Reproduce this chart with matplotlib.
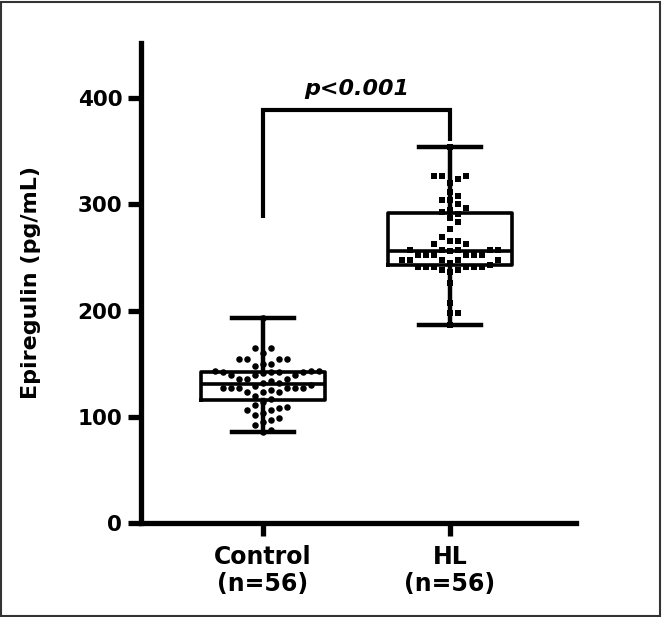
import matplotlib
matplotlib.use("Agg")
import matplotlib.pyplot as plt
from matplotlib.patches import Rectangle
import numpy as np

groups = ["Control\n(n=56)", "HL\n(n=56)"]
control = [86, 88, 92, 95, 97, 99, 102, 104, 106, 106, 108, 109, 111, 114,
           117, 120, 123, 123, 123, 125, 127, 127, 127, 127, 127, 127, 129, 130,
           132, 132, 134, 136, 136, 136, 139, 139, 139, 141, 142, 142, 142, 142,
           143, 143, 143, 148, 150, 150, 154, 154, 154, 154, 160, 165, 165, 193]
hl = [186, 198, 198, 207, 226, 236, 238, 238, 241, 241, 241, 241, 241, 241,
      243, 245, 248, 248, 248, 248, 248, 252, 252, 252, 252, 252, 252, 256,
      257, 257, 257, 257, 257, 263, 263, 266, 266, 269, 277, 283, 287, 291,
      293, 295, 297, 300, 304, 304, 308, 312, 320, 324, 327, 327, 327, 354]
p_label = "p<0.001"
yticks = [0, 100, 200, 300, 400]

FONT = "DejaVu Sans"


def swarm(values, step):
    # simple beeswarm: offsets in pixels, values already in pixels
    order = np.argsort(values, kind="stable")
    cands = [0.0]
    for j in range(1, 30):
        cands += [j * step, -j * step]
    placed = []
    offs = np.zeros(len(values))
    for i in order:
        y = values[i]
        for c in cands:
            if all((c - px) ** 2 + (y - py) ** 2 >= step ** 2 for px, py in placed):
                break
        offs[i] = c
        placed.append((c, y))
    return offs


fig = plt.figure(figsize=(6.62, 6.17), dpi=100)
ax = fig.add_axes([141 / 662, 94 / 617, 435 / 662, 480 / 617])

ax.set_xlim(0.348, 2.674)
ax.set_ylim(0, 452)

px_per_y = 480 / 452
px_per_x = 435 / (2.674 - 0.348)

ax.boxplot([control, hl], positions=[1, 2], widths=0.66, whis=(0, 100),
           showfliers=False, capwidths=0.33,
           boxprops=dict(color="black", linewidth=2.6),
           whiskerprops=dict(color="black", linewidth=3.2),
           capprops=dict(color="black", linewidth=3.2),
           medianprops=dict(color="black", linewidth=2.6))

for pos, vals, mk, sz in [(1, control, "o", 22), (2, hl, "s", 20)]:
    vals = np.array(vals, dtype=float)
    offs = swarm(vals * px_per_y, 8.0) / px_per_x
    ax.scatter(pos + offs, vals, marker=mk, s=sz, color="black",
               linewidths=0, zorder=3)

# significance bracket
ax.plot([1, 1, 2, 2], [287, 389, 389, 360], color="black", linewidth=3,
        solid_joinstyle="miter", solid_capstyle="butt", clip_on=False)
ax.text(1.5, 409, p_label, ha="center", va="center", fontsize=16,
        fontweight="bold", fontstyle="italic", family=FONT)

for s in ["top", "right"]:
    ax.spines[s].set_visible(False)
for s in ["left", "bottom"]:
    ax.spines[s].set_linewidth(3.8)

ax.set_yticks(yticks)
ax.set_xticks([1, 2])
ax.set_xticklabels(groups)
ax.tick_params(axis="both", length=9.5, width=3.8)
ax.tick_params(axis="y", pad=4, labelsize=15.5)
ax.tick_params(axis="x", pad=6, labelsize=17)
for lab in ax.get_xticklabels() + ax.get_yticklabels():
    lab.set_fontweight("bold")
    lab.set_family(FONT)

ax.set_ylabel("Epiregulin (pg/mL)", fontsize=16, fontweight="bold", family=FONT)
ax.yaxis.set_label_coords(-0.23, 0.5)

fig.patches.append(Rectangle((0.002, 0.002), 0.995, 0.995, transform=fig.transFigure,
                             fill=False, linewidth=1.5, edgecolor="#333333"))

fig.savefig("out.png", dpi=100)
